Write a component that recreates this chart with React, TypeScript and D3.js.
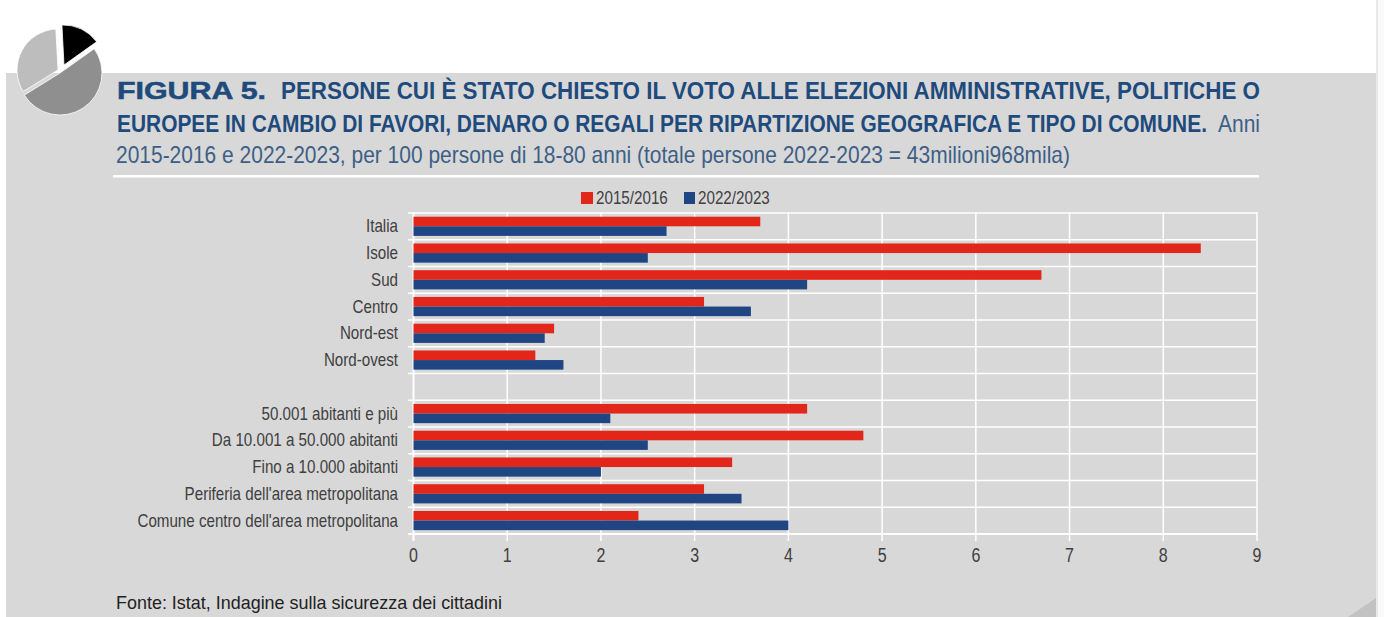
import React from "react";
import * as d3 from "d3";

const categories = ["Italia","Isole","Sud","Centro","Nord-est","Nord-ovest","","50.001 abitanti e più","Da 10.001 a 50.000 abitanti","Fino a 10.000 abitanti","Periferia dell'area metropolitana","Comune centro dell'area metropolitana"];
const series2015 = [3.7,8.4,6.7,3.1,1.5,1.3,null,4.2,4.8,3.4,3.1,2.4];
const series2022 = [2.7,2.5,4.2,3.6,1.4,1.6,null,2.1,2.5,2.0,3.5,4.0];
const xTicks = [0,1,2,3,4,5,6,7,8,9];
const seriesNames = ["2015/2016","2022/2023"];
const pieValues = [16,51,33];
const titleLine2 = "EUROPEE IN CAMBIO DI FAVORI, DENARO O REGALI PER RIPARTIZIONE GEOGRAFICA E TIPO DI COMUNE.";

const RED = "#e2261a", BLUE = "#1f4682", BG = "#d8d8d8";
const TITLE = "#1f4a7c", SUB = "#3d5f86", INK = "#404040";
const FONT = "'Liberation Sans', Arial, sans-serif";

function measure(s: string, font: string) {
  const ctx = document.createElement("canvas").getContext("2d")!;
  ctx.font = font;
  return ctx.measureText(s).width;
}

export default function App() {
  const x = d3.scaleLinear().domain([0, 9]).range([413.5, 1257]);
  const y = d3.scaleBand().domain(categories.map((c, i) => String(i))).range([213, 534]);
  const barH = 9.6;
  const start = (-3 / 180) * Math.PI;
  const pie = d3.pie<number>().sort(null).startAngle(start).endAngle(start + 2 * Math.PI)(pieValues);
  const pieFill = ["#000000", "#8f8f8f", "#bdbdbd"];
  const pieOff = [[4, -5], [0, 3], [-2, 0]];
  const pieR = [40, 42, 41];
  const line2Scale = 1091 / measure(titleLine2, "bold 24px 'Liberation Sans'");
  const anniScale = 42 / measure("Anni", "24px 'Liberation Sans'");
  const narrow = (tx: number, ty: number, s: string, anchor: string, size = 19, sx = 0.8) => (
    <text transform={`translate(${tx},${ty}) scale(${sx},1)`} textAnchor={anchor} fontFamily={FONT} fontSize={size} fill={INK}>{s}</text>
  );
  return (
    <svg width={1384} height={617} style={{ position: "absolute", left: 0, top: 0, display: "block" }}>
      <rect x={0} y={0} width={1384} height={617} fill="#ffffff" />
      <rect x={6} y={73} width={1370} height={544} fill={BG} />
      <rect x={1376} y={0} width={2} height={617} fill="#e8e8e8" />
      <rect x={1378} y={0} width={6} height={617} fill="#fafafa" />
      <path d="M1376,598 L1376,617 L1348,617 Z" fill="#c2c2c2" />

      <g transform="translate(60,70)">
        {pie.map((d, i) => (
          <path key={i}
            d={d3.arc<d3.PieArcDatum<number>>().innerRadius(0).outerRadius(pieR[i])(d) ?? ""}
            fill={pieFill[i]} stroke="#ffffff" strokeWidth={0.8}
            transform={`translate(${pieOff[i][0]},${pieOff[i][1]})`} />
        ))}
      </g>

      <text x={117} y={99} fontFamily={FONT} fontSize={23} fontWeight={700} fill={TITLE} textLength={149} lengthAdjust="spacingAndGlyphs" stroke={TITLE} strokeWidth={0.5}>FIGURA 5.</text>
      <text x={281} y={99} fontFamily={FONT} fontSize={24} fontWeight={700} fill={TITLE} textLength={979} lengthAdjust="spacingAndGlyphs">PERSONE CUI È STATO CHIESTO IL VOTO ALLE ELEZIONI AMMINISTRATIVE, POLITICHE O</text>
      <text transform={`translate(117,132) scale(${line2Scale},1)`} fontFamily={FONT} fontSize={24} fontWeight={700} fill={TITLE}>{titleLine2}</text>
      <text transform={`translate(1218,132) scale(${anniScale},1)`} fontFamily={FONT} fontSize={24} fill={SUB}>Anni</text>
      <text x={116} y={163} fontFamily={FONT} fontSize={24} fill={SUB} textLength={954} lengthAdjust="spacingAndGlyphs">2015-2016 e 2022-2023, per 100 persone di 18-80 anni (totale persone 2022-2023 = 43milioni968mila)</text>
      <rect x={113} y={175} width={1146} height={2.5} fill="#ffffff" />

      <rect x={581} y={192} width={12} height={12} fill={RED} />
      {narrow(596, 204, seriesNames[0], "start")}
      <rect x={684} y={192} width={11} height={12} fill={BLUE} />
      {narrow(698, 204, seriesNames[1], "start")}

      {xTicks.map(t => (
        <line key={t} x1={x(t)} x2={x(t)} y1={212} y2={541} stroke="#ffffff" strokeWidth={t === 0 ? 2 : 1.5} />
      ))}
      {d3.range(categories.length + 1).map(i => {
        const yy = 213 + (i * 321) / categories.length;
        const isEnd = i === categories.length;
        return <line key={i} x1={408} x2={x(9)} y1={yy} y2={yy} stroke="#ffffff" strokeWidth={isEnd ? 2 : 1.5} />;
      })}

      {categories.map((c, i) => {
        const y0 = y(String(i))!;
        const a = series2015[i], b = series2022[i];
        return (
          <g key={i}>
            {a != null && <rect x={x(0)} y={y0 + 3.7} width={x(a) - x(0)} height={barH} fill={RED} />}
            {b != null && <rect x={x(0)} y={y0 + 3.7 + barH} width={x(b) - x(0)} height={barH} fill={BLUE} />}
            {narrow(398, y0 + y.bandwidth() / 2 + 6, c, "end", 18.6, 0.815)}
          </g>
        );
      })}

      {xTicks.map(t => <g key={t}>{narrow(x(t), 562, String(t), "middle", 20)}</g>)}

      <text x={116} y={609} fontFamily={FONT} fontSize={19} fill="#222222" textLength={386} lengthAdjust="spacingAndGlyphs">Fonte: Istat, Indagine sulla sicurezza dei cittadini</text>
    </svg>
  );
}
